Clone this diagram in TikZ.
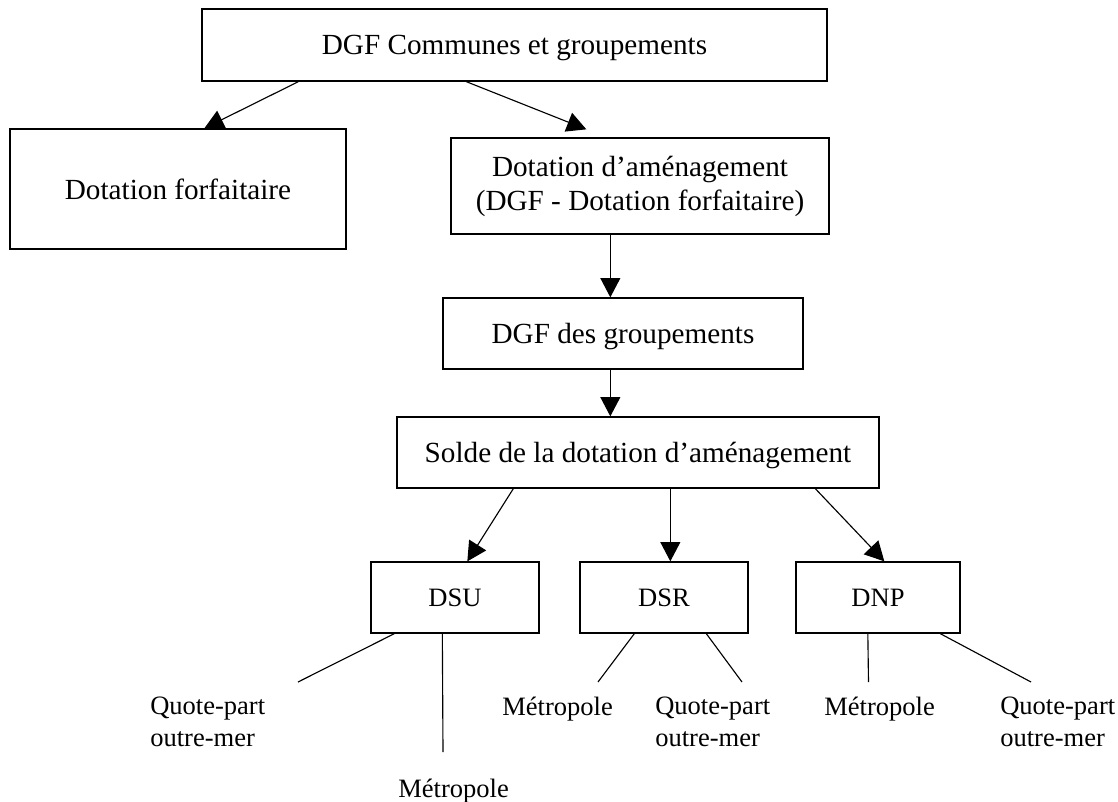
\documentclass[tikz,border=0pt]{standalone}
\usepackage{fontspec}
\setmainfont{Liberation Serif}
\usetikzlibrary{arrows.meta,calc}
\begin{document}
\begin{tikzpicture}[x=0.75pt,y=-0.75pt,
  box/.style={draw=black, line width=1pt, fill=white, inner sep=0pt,
    font=\fontsize{21.9}{25.5}\selectfont, align=center},
  onebox/.style={box, text depth=0pt},
  smallbox/.style={box, text depth=0pt, font=\fontsize{19.9}{24}\selectfont},
  arr/.style={line width=0.85pt, -{Triangle[length=14.5pt,width=15pt]}},
  leafline/.style={line width=0.85pt},
  leaf/.style={inner sep=0pt, font=\fontsize{19.9}{24}\selectfont, align=left}]
\useasboundingbox (0,0) rectangle (1118,801);

% boxes
\node[onebox, minimum width=468.75pt, minimum height=54pt] (top) at (514.5,45) {DGF Communes et groupements};
\node[box, minimum width=252pt, minimum height=90pt] (df) at (178,189) {Dotation forfaitaire};
\node[box, minimum width=283.5pt, minimum height=72pt] (da) at (640,186) {Dotation d’aménagement\\(DGF - Dotation forfaitaire)};
\node[onebox, minimum width=270pt, minimum height=53.25pt] (dgfg) at (623,333.5) {DGF des groupements};
\node[onebox, minimum width=361.5pt, minimum height=53.25pt] (solde) at (638,452.5) {Solde de la dotation d’aménagement};
\node[smallbox, minimum width=126pt, minimum height=53.25pt] (dsu) at (455,597.5) {DSU};
\node[smallbox, minimum width=126pt, minimum height=53.25pt] (dsr) at (664,597.5) {DSR};
\node[smallbox, minimum width=123pt, minimum height=53.25pt] (dnp) at (878,597.5) {DNP};

% arrows
\draw[arr] ($(top.south west)+(97,0)$) -- ($(df.north west)+(195,0)$);
\draw[arr] ($(top.south west)+(265,0)$) -- ($(da.north west)+(136,-8)$);
\draw[arr] ($(da.south west)+(160,0)$) -- ($(dgfg.north west)+(168,0)$);
\draw[arr] ($(dgfg.south west)+(168,0)$) -- ($(solde.north west)+(214,0)$);
\draw[arr] ($(solde.south west)+(117,0)$) -- ($(dsu.north west)+(97,0)$);
\draw[arr] ($(solde.south west)+(274,0)$) -- ($(dsr.north west)+(91,0)$);
\draw[arr] ($(solde.south west)+(419,0)$) -- ($(dnp.north west)+(89,0)$);

% leaf ends
\coordinate (e1) at (298,682);
\coordinate (e2) at (443,752);
\coordinate (e3) at (598,682);
\coordinate (e4) at (742,682);
\coordinate (e5) at (868.5,682);
\coordinate (e6) at (1031,682);

\draw[leafline] ($(dsu.south west)+(24,0)$) -- (e1);
\draw[leafline] ($(dsu.south west)+(72,0)$) -- (e2);
\draw[leafline] ($(dsr.south west)+(55,0)$) -- (e3);
\draw[leafline] ($(dsr.south west)+(127,0)$) -- (e4);
\draw[leafline] ($(dnp.south west)+(72.5,0)$) -- (e5);
\draw[leafline] ($(dnp.south west)+(145,0)$) -- (e6);

% leaf labels
\node[leaf, anchor=north west] (l1) at (150,697) {Quote-part\\outre-mer};
\node[leaf, anchor=base west] (l2) at (398,797) {Métropole};
\node[leaf, anchor=base west] (l3) at (502,715) {Métropole};
\node[leaf, anchor=north west] (l4) at (655,697) {Quote-part\\outre-mer};
\node[leaf, anchor=base west] (l5) at (824,715) {Métropole};
\node[leaf, anchor=north west] (l6) at (1000,697) {Quote-part\\outre-mer};
\end{tikzpicture}
\end{document}
